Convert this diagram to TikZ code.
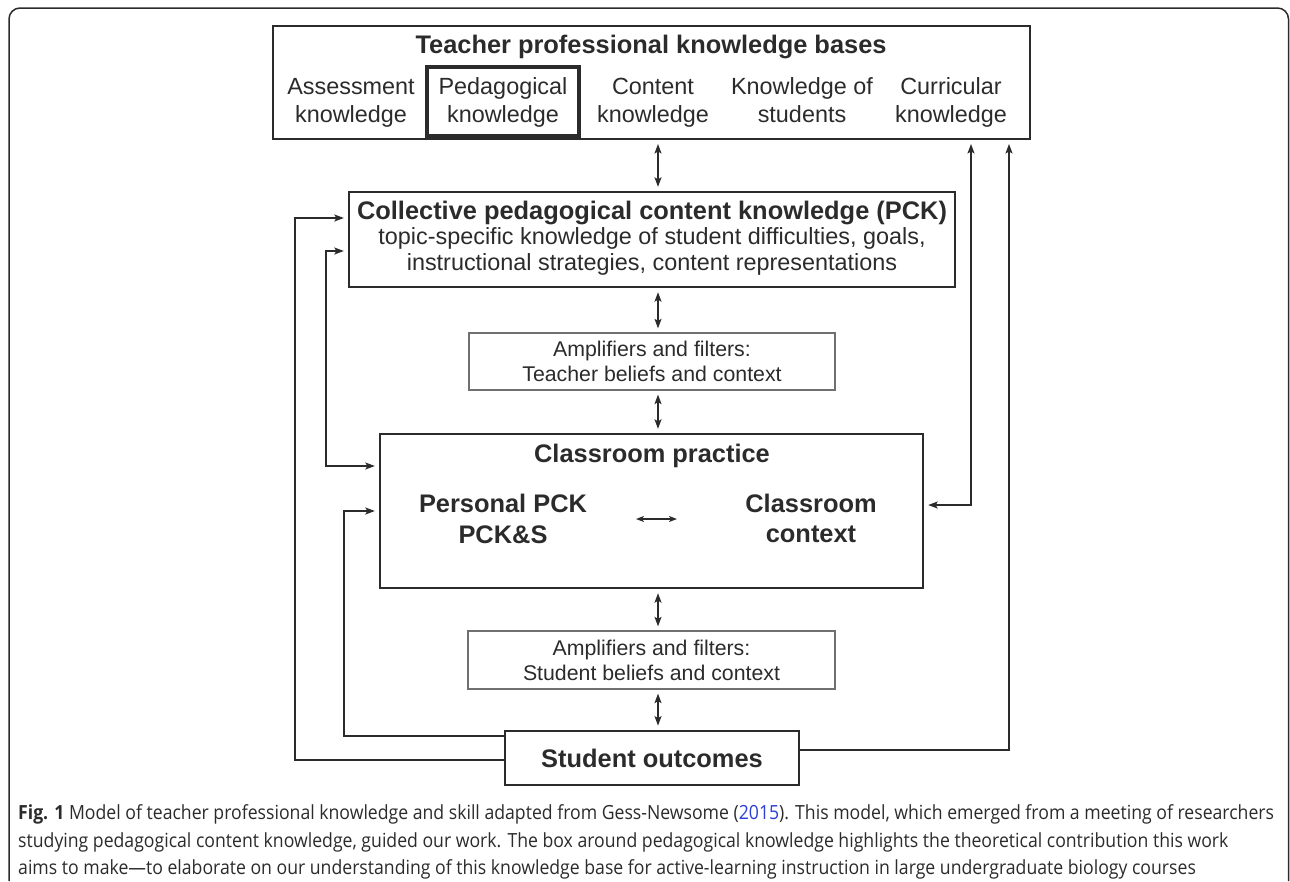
\documentclass[tikz,border=0pt]{standalone}
\usepackage{fontspec}
\setmainfont{Liberation Sans}
\newfontfamily\capfont[FakeStretch=0.905]{Open Sans}
\usetikzlibrary{arrows.meta}
\definecolor{ink}{HTML}{2B2B2B}
\definecolor{boxgray}{HTML}{707070}
\definecolor{linkblue}{HTML}{2B3FD8}
\begin{document}
\begin{tikzpicture}[x=1pt,y=-1pt,
  every node/.style={text=ink, inner sep=0pt, align=center},
  conn/.style={draw=ink, line width=1.3pt},
  tipend/.style={-{Stealth[length=9.5pt,width=7pt,inset=2pt]}, shorten >=4pt},
  tipboth/.style={{Stealth[length=9.5pt,width=7pt,inset=2pt]}-{Stealth[length=9.5pt,width=7pt,inset=2pt]}, shorten >=4pt, shorten <=4pt},
  headbold/.style={font=\fontsize{25.4}{30}\selectfont\bfseries},
  bodytext/.style={font=\fontsize{23.4}{28}\selectfont},
  amptext/.style={font=\fontsize{21.3}{25}\selectfont},
  capline/.style={anchor=base west, font=\capfont\fontsize{19.5}{28}\selectfont},
  ampbox/.style={draw=boxgray, line width=1.3pt},
  darkbox/.style={draw=ink, line width=2.4pt}
]
\useasboundingbox (0,0) rectangle (1290,881);
% outer frame
\draw[ink, line width=1.5pt, rounded corners=11pt] (9,881) -- (9,8) -- (1288.5,8) -- (1288.5,881);

% top box
\node[draw=ink, line width=2pt, minimum width=757pt, minimum height=113pt] (top) at (651.5,82.5) {};
\node[headbold] (toptitle) at (651,47) {Teacher professional knowledge bases};
\node[draw=ink, line width=4.5pt, minimum width=152pt, minimum height=69pt] (pedbox) at (503,101.5) {};
\node[bodytext] (assess) at (351,103) {Assessment\strut\\knowledge\strut};
\node[bodytext] (ped) at (503,103) {Pedagogical\strut\\knowledge\strut};
\node[bodytext] (cont) at (653,103) {Content\strut\\knowledge\strut};
\node[bodytext] (kstud) at (802,103) {Knowledge of\strut\\students\strut};
\node[bodytext] (curr) at (951,103) {Curricular\strut\\knowledge\strut};

% collective PCK
\node[darkbox, minimum width=606pt, minimum height=95pt] (pck) at (652,239.5) {};
\node[font=\fontsize{23.4}{25.5}\selectfont] (pcktext) at (652,238)
  {{\fontsize{25.4}{25.5}\selectfont\bfseries Collective pedagogical content knowledge (PCK)}\\
   topic-specific knowledge of student difficulties, goals,\\
   instructional strategies, content representations};

% teacher amplifiers
\node[ampbox, amptext, minimum width=366pt, minimum height=57pt] (tamp) at (652,361.5)
  {Amplifiers and filters:\\Teacher beliefs and context};

% classroom practice
\node[darkbox, minimum width=543pt, minimum height=154pt] (class) at (651.5,511) {};
\node[headbold] (classtitle) at (652,456) {Classroom practice};
\node[font=\fontsize{25.4}{31}\selectfont\bfseries] (personal) at (503,518.5) {Personal PCK\\PCK\&S};
\node[font=\fontsize{25.4}{30}\selectfont\bfseries] (context) at (811,518) {Classroom\\context};
\coordinate (hl) at (636,519);
\coordinate (hr) at (677,519);
\draw[conn, {Stealth[length=8pt,width=6pt,inset=2pt]}-{Stealth[length=8pt,width=6pt,inset=2pt]}] (hl) -- (hr);

% student amplifiers
\node[ampbox, amptext, minimum width=367pt, minimum height=58pt] (samp) at (651.5,660)
  {Amplifiers and filters:\\Student beliefs and context};

% student outcomes
\node[draw=ink, line width=2.8pt, minimum width=294pt, minimum height=54pt, headbold] (sout) at (652,758) {Student outcomes};

% vertical double arrows
\coordinate (ax) at (658,0);
\draw[conn, tipboth] (top.south -| ax) -- (pck.north -| ax);
\draw[conn, tipboth] (pck.south -| ax) -- (tamp.north -| ax);
\draw[conn, tipboth] (tamp.south -| ax) -- (class.north -| ax);
\draw[conn, tipboth] (class.south -| ax) -- (samp.north -| ax);
\draw[conn, tipboth] (samp.south -| ax) -- (sout.north -| ax);

% left feedback lines
\coordinate (A1) at (295,760);
\coordinate (A2) at (295,218);
\draw[conn, tipend] (sout.west |- A1) -- (A1) -- (A2) -- (pck.west |- A2);
\coordinate (B1) at (344,736);
\coordinate (B2) at (344,511);
\draw[conn, tipend] (sout.west |- B1) -- (B1) -- (B2) -- (class.west |- B2);
\coordinate (C1) at (326,251);
\coordinate (C2) at (326,466);
\draw[conn, tipboth] (pck.west |- C1) -- (C1) -- (C2) -- (class.west |- C2);

% right feedback lines
\coordinate (D1) at (971,505);
\draw[conn, tipboth] (class.east |- D1) -- (D1) -- (top.south -| D1);
\coordinate (E1) at (1009,750);
\draw[conn, tipend] (sout.east |- E1) -- (E1) -- (top.south -| E1);

% caption
\node[capline] (cap1) at (18,819) {{\bfseries Fig. 1} Model of teacher professional knowledge and skill adapted from Gess-Newsome (\textcolor{linkblue}{2015}). This model, which emerged from a meeting of researchers};
\node[capline] (cap2) at (18,847) {studying pedagogical content knowledge, guided our work. The box around pedagogical knowledge highlights the theoretical contribution this work};
\node[capline] (cap3) at (18,874) {aims to make—to elaborate on our understanding of this knowledge base for active-learning instruction in large undergraduate biology courses};
\end{tikzpicture}
\end{document}
